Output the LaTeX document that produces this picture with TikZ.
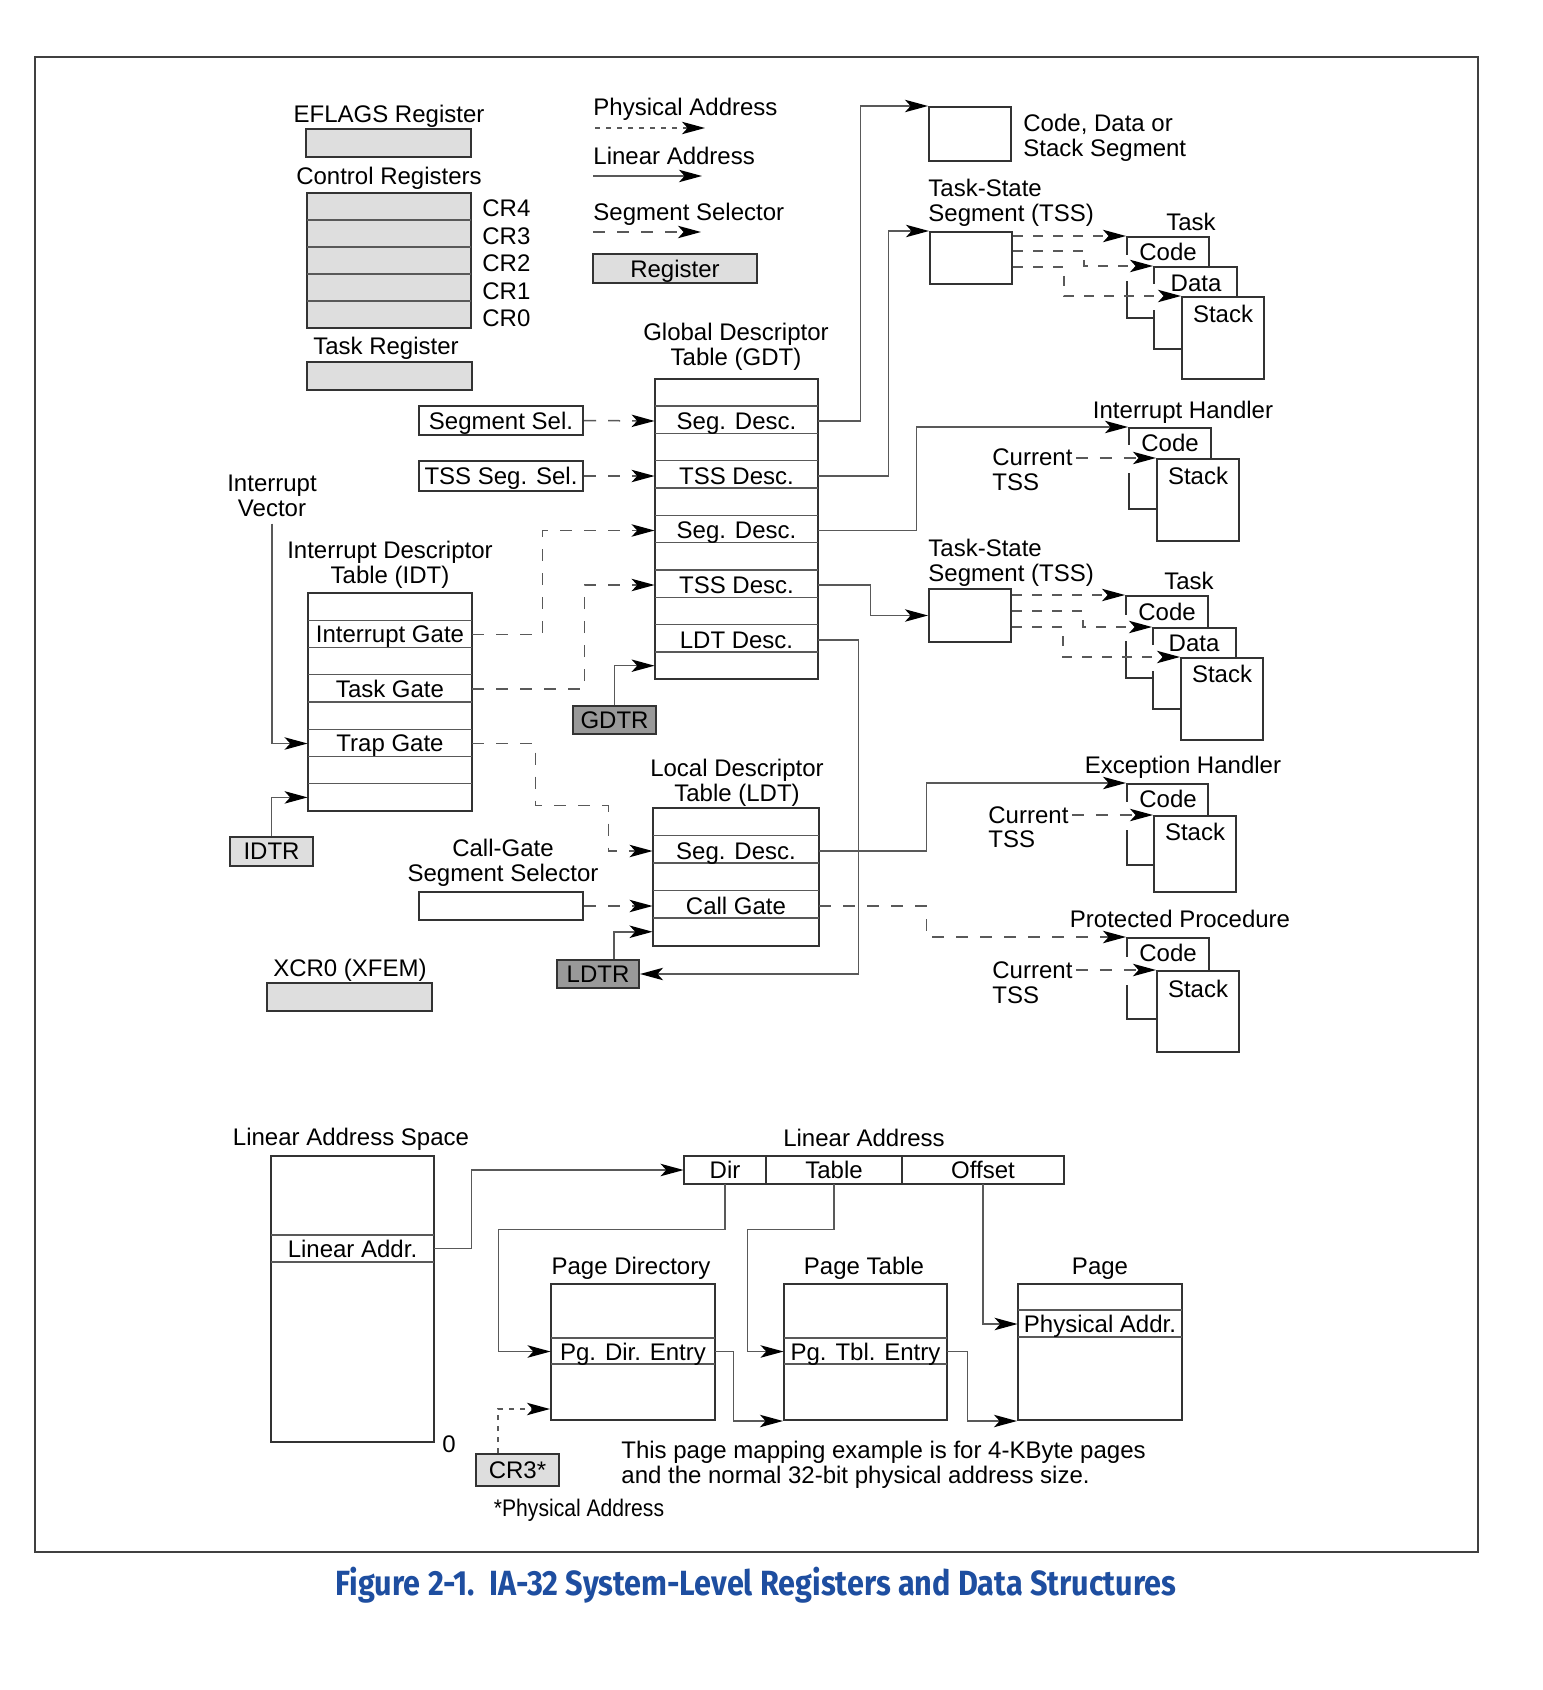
\documentclass[tikz,border=0pt]{standalone}
\usepackage{graphicx}
\usepackage{fontspec}
\setmainfont{Liberation Sans}
\newfontfamily\capfont{Fira Sans}
\usetikzlibrary{arrows.meta,fit,calc}
\definecolor{regfill}{gray}{0.87}
\definecolor{darkfill}{gray}{0.6}
\definecolor{capblue}{RGB}{30,78,160}
\begin{document}
\begin{tikzpicture}[x=0.5pt,y=-0.5pt,
  font=\fontsize{12}{12.5}\selectfont,
  every node/.append style={text depth=0pt},
  box/.style={draw=black!80,line width=1pt,inner sep=0pt},
  wbox/.style={box,fill=white},
  reg/.style={box,fill=regfill},
  dreg/.style={box,fill=darkfill},
  rowline/.style={draw=black!65,line width=0.7pt},
  divline/.style={draw=black!80,line width=1pt},
  wire/.style={draw=black!65,line width=0.75pt},
  conn/.style={wire,-{Stealth[length=11.5pt,width=6.2pt,inset=2.8pt,black]}},
  sel/.style={dash pattern=on 6pt off 6pt},
  tsel/.style={dash pattern=on 5pt off 5pt},
  phys/.style={dash pattern=on 2.5pt off 3pt},
  txt/.style={inner sep=0pt},
  gapfill/.style={fill=white,draw=none},
]
\useasboundingbox (0,0) rectangle (1542,1690);
\fill[white] (0,0) rectangle (1542,1690);
\draw[draw=black!75,line width=1pt] (35,57) rectangle (1478,1552);

% ---------------- registers (left top)
\node[txt] (tEfl) at (389,114) {EFLAGS Register};
\node[reg,fit={(306,129)(471,157)}] (efl) {};
\node[txt] (tCR) at (389,176) {Control Registers};
\node[reg,fit={(307,193)(471,328)}] (cr) {};
\foreach \yy in {220,247,274,301} \draw[rowline] (307,\yy) -- (471,\yy);
\node[txt,anchor=west] (cr4) at (482,208) {CR4};
\node[txt,anchor=west] (cr3l) at (482,236) {CR3};
\node[txt,anchor=west] (cr2) at (482,263) {CR2};
\node[txt,anchor=west] (cr1) at (482,291) {CR1};
\node[txt,anchor=west] (cr0) at (482,318) {CR0};
\node[txt] (tTR) at (386,346) {Task Register};
\node[reg,fit={(307,362)(472,390)}] (tr) {};

% ---------------- legend
\node[txt,anchor=west] (lgPhys) at (593,107) {Physical Address};
\coordinate (pA) at (595,128); \coordinate (pB) at (705,128);
\draw[conn,phys] (pA) -- (pB);
\node[txt,anchor=west] (lgLin) at (593,156) {Linear Address};
\coordinate (lA) at (593,176); \coordinate (lB) at (702,176);
\draw[conn] (lA) -- (lB);
\node[txt,anchor=west] (lgSel) at (593,212) {Segment Selector};
\coordinate (sA) at (593,232); \coordinate (sB) at (701,232);
\draw[conn,sel] (sA) -- (sB);
\node[reg,fit={(593,254)(757,283)}] (lgReg) {};
\node[txt] (lgRegT) at (lgReg.center) {Register};

% ---------------- segment boxes top right
\node[box,fit={(929,107)(1011,161)}] (cds) {};
\node[txt,align=left,anchor=west] (tCds) at (1023,135) {Code, Data or\\Stack Segment};
\node[txt,align=left,anchor=west] (tTss1) at (928,200.5) {Task-State\\Segment (TSS)};
\node[box,fit={(930,232)(1012,284)}] (tss1) {};

% Task 1
\node[txt] (tTask1) at (1191,222) {Task};
\node[wbox,fit={(1127,237)(1209,318)}] (t1C) {};
\node[wbox,fit={(1154,267)(1237,349)}] (t1D) {};
\node[wbox,fit={(1182,297)(1264,379)}] (t1S) {};
\node[txt] (t1Ct) at (1168,252) {Code};
\node[txt] (t1Dt) at (1196,283) {Data};
\node[txt] (t1St) at (1223,314) {Stack};
\fill[gapfill] (1123,255) rectangle (1131,281);
\fill[gapfill] (1150,284) rectangle (1158,310);
\draw[conn,tsel] ($(tss1.north east)+(0,5)$) -- (t1C.north west);
\draw[conn,tsel] ($(tss1.north east)+(0,20)$) -- ++(71,0) |- (t1D.north west);
\draw[conn,tsel] ($(tss1.north east)+(0,36)$) -- ++(51,0) |- (t1S.north west);

% ---------------- GDT
\node[txt,align=center] (tGdt) at (736,344) {Global Descriptor\\Table (GDT)};
\node[box,fit={(655,378.5)(818,679.35)}] (gdt) {};
\foreach \k in {1,...,10} \draw[rowline] (655,{378.5+\k*27.35}) -- (818,{378.5+\k*27.35});
\node[txt,minimum width=81.5pt] (gSeg1) at (736.5,421) {Seg. Desc.};
\node[txt,minimum width=81.5pt] (gTss1) at (736.5,476) {TSS Desc.};
\node[txt,minimum width=81.5pt] (gSeg2) at (736.5,530.5) {Seg. Desc.};
\node[txt,minimum width=81.5pt] (gTss2) at (736.5,585) {TSS Desc.};
\node[txt,minimum width=81.5pt] (gLdt) at (736.5,640) {LDT Desc.};
\node[txt,minimum width=81.5pt] (gLast) at (736.5,665.7) {};

\node[box,fit={(419,406)(583,435)}] (sSeg) {};
\node[txt] (sSegT) at (sSeg.center) {Segment Sel.};
\node[box,fit={(419,461)(583,491)}] (sTss) {};
\node[txt] (sTssT) at (sTss.center) {TSS Seg. Sel.};
\draw[conn,sel] (sSeg.east) -- (gSeg1.west);
\draw[conn,sel] (sTss.east) -- (gTss1.west);

\node[dreg,fit={(573,706)(656,734)}] (gdtr) {};
\node[txt] (gdtrT) at (gdtr.center) {GDTR};
\draw[conn] (gdtr.north) |- (gLast.west);

% ---------------- IDT
\node[txt,align=center] (ivec) at (272,495.5) {Interrupt\\Vector};
\node[txt,align=center] (tIdt) at (390,562) {Interrupt Descriptor\\Table (IDT)};
\node[box,fit={(308,593)(472,811)}] (idt) {};
\foreach \k in {1,...,7} \draw[rowline] (308,{593+\k*27.25}) -- (472,{593+\k*27.25});
\node[txt,minimum width=82pt] (iInt) at (390,634.5) {Interrupt Gate};
\node[txt,minimum width=82pt] (iTask) at (390,689) {Task Gate};
\node[txt,minimum width=82pt] (iTrap) at (390,743.5) {Trap Gate};
\node[txt,minimum width=82pt] (iLast) at (390,797.4) {};
\node[reg,fit={(230,837)(313,866)}] (idtr) {};
\node[txt] (idtrT) at (idtr.center) {IDTR};
\draw[conn] ($(ivec.south)+(0,7)$) |- (iTrap.west);
\draw[conn] (idtr.north) |- (iLast.west);

% ---------------- LDT
\node[txt,align=center] (tLdt) at (737,780) {Local Descriptor\\Table (LDT)};
\node[box,fit={(653,808)(819,945.5)}] (ldt) {};
\foreach \k in {1,...,4} \draw[rowline] (653,{808+\k*27.5}) -- (819,{808+\k*27.5});
\node[txt,minimum width=83pt] (lSeg) at (736,851) {Seg. Desc.};
\node[txt,minimum width=83pt] (lCall) at (736,906) {Call Gate};
\node[txt,minimum width=83pt] (lLast) at (736,931.75) {};
\node[txt,align=center] (tCgs) at (503,860) {Call-Gate\\Segment Selector};
\node[box,fit={(419,892)(583,920)}] (sCall) {};
\draw[conn,sel] (sCall.east) -- (lCall.west);
\node[dreg,fit={(557,960)(639,988)}] (ldtr) {};
\node[txt] (ldtrT) at (ldtr.center) {LDTR};
\draw[conn] ($(ldtr.north)+(16,0)$) |- (lLast.west);

\node[txt] (tX) at (350,968) {XCR0 (XFEM)};
\node[reg,fit={(267,983)(432,1011)}] (xcr) {};

% ---------------- TSS 2 and Task 2
\node[txt,align=left,anchor=west] (tTss2) at (928,560) {Task-State\\Segment (TSS)};
\node[box,fit={(929,589)(1011,642)}] (tss2) {};
\node[txt] (tTask2) at (1189,581) {Task};
\node[wbox,fit={(1126,596)(1208,678)}] (t2C) {};
\node[wbox,fit={(1153,628)(1236,709)}] (t2D) {};
\node[wbox,fit={(1181,658)(1263,740)}] (t2S) {};
\node[txt] (t2Ct) at (1167,612) {Code};
\node[txt] (t2Dt) at (1194,643) {Data};
\node[txt] (t2St) at (1222,674) {Stack};
\fill[gapfill] (1122,615) rectangle (1130,641);
\fill[gapfill] (1149,645) rectangle (1157,671);
\draw[conn,tsel] ($(tss2.north east)+(0,7)$) -- (t2C.north west);
\draw[conn,tsel] ($(tss2.north east)+(0,23)$) -- ++(71,0) |- (t2D.north west);
\draw[conn,tsel] ($(tss2.north east)+(0,39)$) -- ++(51,0) |- (t2S.north west);

% ---------------- Interrupt handler
\node[txt] (tIH) at (1183,410) {Interrupt Handler};
\node[wbox,fit={(1129,428)(1211,509)}] (ihC) {};
\node[wbox,fit={(1157,459)(1239,541)}] (ihS) {};
\node[txt] (ihCt) at (1170,443) {Code};
\node[txt] (ihSt) at (1198,476) {Stack};
\node[txt,anchor=west] (ihCur) at (992,457) {Current};
\node[txt,anchor=west] (ihTss) at (992,482) {TSS};
\fill[gapfill] (1125,445) rectangle (1133,473);
\draw[conn,sel] ($(ihCur.east |- ihS.north west)+(3,0)$) -- (ihS.north west);

% ---------------- Exception handler
\node[txt] (tEH) at (1183,765) {Exception Handler};
\node[wbox,fit={(1127,784)(1208,865)}] (ehC) {};
\node[wbox,fit={(1154,816)(1236,892)}] (ehS) {};
\node[txt] (ehCt) at (1168,799) {Code};
\node[txt] (ehSt) at (1195,832) {Stack};
\node[txt,anchor=west] (ehCur) at (988,815) {Current};
\node[txt,anchor=west] (ehTss) at (988,839) {TSS};
\fill[gapfill] (1123,802) rectangle (1131,830);
\draw[conn,sel] ($(ehCur.east |- ehS.north west)+(3,0)$) -- (ehS.north west);

% ---------------- Protected procedure
\node[txt] (tPP) at (1180,919) {Protected Procedure};
\node[wbox,fit={(1127,938)(1209,1019)}] (ppC) {};
\node[wbox,fit={(1157,971)(1239,1052)}] (ppS) {};
\node[txt] (ppCt) at (1168,953) {Code};
\node[txt] (ppSt) at (1198,989) {Stack};
\node[txt,anchor=west] (ppCur) at (992,970) {Current};
\node[txt,anchor=west] (ppTss) at (992,995) {TSS};
\fill[gapfill] (1123,957) rectangle (1131,985);
\draw[conn,sel] ($(ppCur.east |- ppS.north west)+(3,0)$) -- (ppS.north west);

% ---------------- GDT / IDT / LDT connectors
\draw[conn] (gSeg1.east) -- ++(42,0) |- (cds.north west);
\draw[conn] (gTss1.east) -- ++(70,0) |- (tss1.north west);
\draw[conn] (gSeg2.east) -- ++(98,0) |- (ihC.north west);
\draw[conn] (gTss2.east) -- ++(52,0) |- (tss2.west);
\draw[conn] (gLdt.east) -- ++(40,0) |- (ldtr.east);
\draw[conn,sel] (iInt.east) -- ++(70,0) |- (gSeg2.west);
\draw[conn,sel] (iTask.east) -- ++(112,0) |- (gTss2.west);
\draw[conn,sel] (iTrap.east) -- ++(63,0) -- ++(0,62) -- ++(73,0) |- (lSeg.west);
\draw[conn] (lSeg.east) -- ++(107,0) |- (ehC.north west);
\draw[conn,sel] (lCall.east) -- ++(107,0) |- (ppC.north west);

% ---------------- paging
\node[txt] (tLas) at (351,1137) {Linear Address Space};
\node[box,fit={(271,1156)(434,1442)}] (las) {};
\draw[rowline] (271,1235) -- (434,1235);
\draw[rowline] (271,1262) -- (434,1262);
\node[txt,minimum width=81.5pt] (laRow) at (352.5,1248.5) {Linear Addr.};
\node[txt] (zero) at (449,1444) {0};

\node[txt] (tLa) at (864,1138) {Linear Address};
\node[box,fit={(684,1156)(1064,1184)}] (la) {};
\draw[divline] (766,1156) -- (766,1184);
\draw[divline] (902,1156) -- (902,1184);
\node[txt,minimum width=41pt,minimum height=14pt] (laDir) at (725,1170) {Dir};
\node[txt,minimum width=68pt,minimum height=14pt] (laTab) at (834,1170) {Table};
\node[txt,minimum width=81pt,minimum height=14pt] (laOff) at (983,1170) {Offset};

\node[txt] (tPd) at (631,1266) {Page Directory};
\node[box,fit={(551,1284)(715,1420)}] (pd) {};
\draw[rowline] (551,1338) -- (715,1338);
\draw[rowline] (551,1364) -- (715,1364);
\node[txt,minimum width=82pt] (pdEntry) at (633,1351.5) {Pg. Dir. Entry};

\node[txt] (tPt) at (864,1266) {Page Table};
\node[box,fit={(784,1284)(947,1420)}] (pt) {};
\draw[rowline] (784,1338) -- (947,1338);
\draw[rowline] (784,1364) -- (947,1364);
\node[txt,minimum width=81.5pt] (ptEntry) at (865.5,1351.5) {Pg. Tbl. Entry};

\node[txt] (tPg) at (1100,1266) {Page};
\node[box,fit={(1018,1284)(1182,1420)}] (page) {};
\draw[rowline] (1018,1310) -- (1182,1310);
\draw[rowline] (1018,1337) -- (1182,1337);
\node[txt,minimum width=82pt] (pgRow) at (1100,1324) {Physical Addr.};

\node[reg,fit={(476,1454)(559,1486)}] (cr3) {};
\node[txt] (cr3T) at (cr3.center) {CR3*};
\node[txt] (fnPA) at (579,1508) {\scalebox{0.88}[1]{*Physical Address}};
\node[txt,align=left,anchor=west] (fn) at (621,1462.5) {This page mapping example is for 4-KByte pages\\and the normal 32-bit physical address size.};

\draw[conn] (laRow.east) -- ++(37,0) |- (laDir.west);
\draw[conn] (laDir.south) -- ++(0,45) -| ($(pdEntry.west)+(-52,0)$) -- (pdEntry.west);
\draw[conn] (laTab.south) -- ++(0,45) -| ($(ptEntry.west)+(-36,0)$) -- (ptEntry.west);
\draw[conn] (laOff.south) |- (pgRow.west);
\draw[conn] (pdEntry.east) -- ++(18,0) |- (pt.south west);
\draw[conn] (ptEntry.east) -- ++(20,0) |- (page.south west);
\draw[conn,phys] ($(cr3.north)+(-19.5,0)$) |- ($(pd.south west)+(0,-12)$);

% ---------------- caption
\node[txt,text=capblue,font=\capfont\fontsize{17.5}{20}\selectfont\bfseries] (cap) at (756,1581)
  {\scalebox{0.875}[1]{Figure 2-1.\ \ IA-32 System-Level Registers and Data Structures}};
\end{tikzpicture}
\end{document}
